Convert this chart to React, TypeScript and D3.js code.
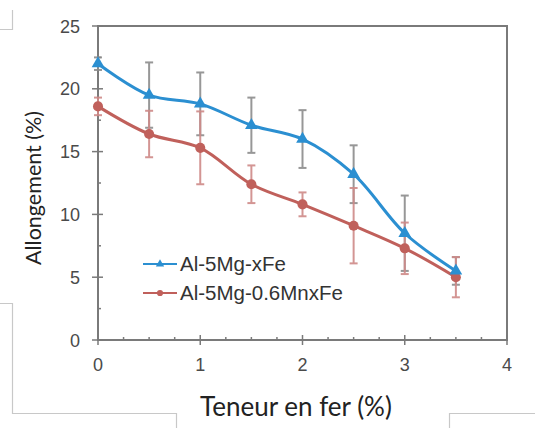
import React, { useEffect, useRef } from "react";
import * as d3 from "d3";

const fer = [0, 0.5, 1, 1.5, 2, 2.5, 3, 3.5];
const allongXFe = [22, 19.5, 18.8, 17.1, 16.0, 13.2, 8.5, 5.5];
const errXFe = [0.5, 2.6, 2.5, 2.2, 2.3, 2.3, 3.0, 1.1];
const allongMn = [18.6, 16.4, 15.3, 12.4, 10.8, 9.1, 7.3, 5.0];
const errMn = [0.7, 1.85, 2.9, 1.5, 0.95, 3.0, 2.05, 1.6];
const seriesNames = ["Al-5Mg-xFe", "Al-5Mg-0.6MnxFe"];
const xTicks = [0, 1, 2, 3, 4];
const yTicks = [0, 5, 10, 15, 20, 25];

const App = () => {
  const ref = useRef<SVGSVGElement>(null);

  useEffect(() => {
    const svg = d3.select(ref.current);
    svg.selectAll("*").remove();

    const x = d3.scaleLinear().domain([0, 4]).range([98, 507]);
    const y = d3.scaleLinear().domain([0, 25]).range([340, 26]);
    const frame = "#7a7a7a";

    // decorative page corners
    const deco = svg.append("g").attr("stroke", "#c8c8c8").attr("fill", "none").attr("stroke-width", 1.2);
    deco.append("path").attr("d", "M0,29.5H12.5V10");
    deco.append("path").attr("d", "M0,303.5H12.5V413.5H176.5V428");
    deco.append("path").attr("d", "M535,413.5H449.5V428");

    // frame
    svg.append("rect")
      .attr("x", x(0)).attr("y", y(25))
      .attr("width", x(4) - x(0)).attr("height", y(0) - y(25))
      .attr("fill", "none").attr("stroke", frame).attr("stroke-width", 2);

    // ticks
    const g = svg.append("g").attr("stroke", frame).attr("stroke-width", 1.5);
    d3.range(0, 4.01, 0.25).forEach((v) => {
      const major = Number.isInteger(v);
      g.append("line").attr("x1", x(v)).attr("x2", x(v))
        .attr("y1", y(0) - (major ? 5 : 3)).attr("y2", y(0) + (major ? 5 : 0));
    });
    d3.range(0, 25.01, 2.5).forEach((v) => {
      const major = v % 5 === 0;
      g.append("line").attr("y1", y(v)).attr("y2", y(v))
        .attr("x1", x(0) - (major ? 6 : 0)).attr("x2", x(0) + (major ? 5 : 3));
    });

    // tick labels
    svg.append("g").selectAll("text").data(yTicks).join("text")
      .attr("x", 80).attr("y", (d) => y(d) + 6.5)
      .attr("text-anchor", "end")
      .attr("font-family", "Liberation Sans, Arial, sans-serif")
      .attr("font-size", 18).attr("fill", "#4a4a4a")
      .text((d) => d);
    svg.append("g").selectAll("text").data(xTicks).join("text")
      .attr("x", (d) => x(d)).attr("y", 371)
      .attr("text-anchor", "middle")
      .attr("font-family", "Liberation Sans, Arial, sans-serif")
      .attr("font-size", 18).attr("fill", "#4a4a4a")
      .text((d) => d);

    // axis titles
    svg.append("text")
      .attr("transform", `translate(41,188) rotate(-90)`)
      .attr("text-anchor", "middle")
      .attr("font-family", "Lato, sans-serif")
      .attr("font-size", 21.5).attr("fill", "#222")
      .text("Allongement (%)");
    svg.append("text")
      .attr("x", 296).attr("y", 416)
      .attr("text-anchor", "middle")
      .attr("font-family", "Lato, sans-serif")
      .attr("font-size", 26).attr("fill", "#222")
      .text("Teneur en fer (%)");

    const series = [
      { vals: allongXFe, errs: errXFe, color: "#2b8fd1", err: "#8c8c8c", shape: d3.symbolTriangle },
      { vals: allongMn, errs: errMn, color: "#c0605b", err: "#cf8a88", shape: d3.symbolCircle },
    ];

    const line = d3.line<number>()
      .x((_, i) => x(fer[i]))
      .y((d) => y(d))
      .curve(d3.curveCatmullRom.alpha(0.5));

    // error bars
    series.forEach((s) => {
      const eg = svg.append("g").attr("stroke", s.err).attr("stroke-width", 2).attr("opacity", 0.9);
      s.vals.forEach((v, i) => {
        const cx = x(fer[i]);
        const top = y(v + s.errs[i]);
        const bot = y(v - s.errs[i]);
        eg.append("line").attr("x1", cx).attr("x2", cx).attr("y1", top).attr("y2", bot);
        eg.append("line").attr("x1", cx - 4).attr("x2", cx + 4).attr("y1", top).attr("y2", top);
        eg.append("line").attr("x1", cx - 4).attr("x2", cx + 4).attr("y1", bot).attr("y2", bot);
      });
    });

    series.slice().reverse().forEach((s) => {
      svg.append("path")
        .attr("d", line(s.vals))
        .attr("fill", "none").attr("stroke", s.color).attr("stroke-width", 3);
      svg.append("g").selectAll("path").data(s.vals).join("path")
        .attr("transform", (d, i) => `translate(${x(fer[i])},${y(d)})`)
        .attr("d", d3.symbol().type(s.shape).size(s.shape === d3.symbolCircle ? 80 : 70))
        .attr("fill", s.color);
    });

    // legend
    seriesNames.forEach((name, i) => {
      const s = series[i];
      const ly = 264 + i * 29;
      svg.append("line").attr("x1", 143).attr("x2", 177).attr("y1", ly).attr("y2", ly)
        .attr("stroke", s.color).attr("stroke-width", 2);
      svg.append("path")
        .attr("transform", `translate(160,${ly})`)
        .attr("d", d3.symbol().type(s.shape).size(30))
        .attr("fill", s.color);
      svg.append("text")
        .attr("x", 180).attr("y", ly + 7)
        .attr("font-family", "Liberation Sans, Arial, sans-serif")
        .attr("font-size", 20.5).attr("fill", "#333")
        .text(name);
    });
  }, []);

  return (
    <svg
      ref={ref}
      width={535}
      height={428}
      style={{ position: "absolute", left: 0, top: 0, background: "#fff" }}
    />
  );
};

export default App;
